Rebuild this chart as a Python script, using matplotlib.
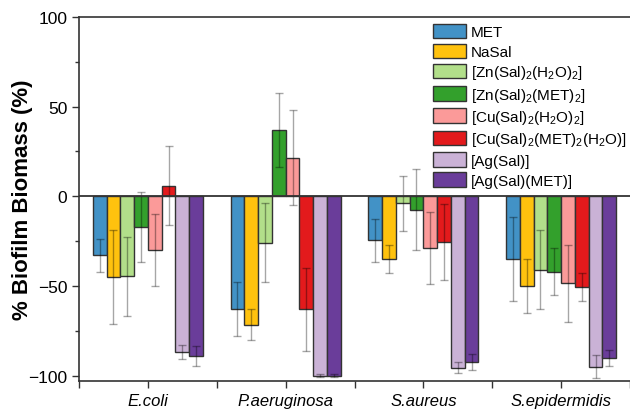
import numpy as np
import matplotlib
matplotlib.use('Agg')
import matplotlib.pyplot as plt

plt.rcParams['font.family'] = ['Liberation Sans', 'DejaVu Sans']
plt.rcParams['mathtext.default'] = 'regular'

# bacteria groups on the x axis
groups = ['E.coli', 'P.aeruginosa', 'S.aureus', 'S.epidermidis']

# compounds (legend order)
compounds = ['MET', 'NaSal',
             '[Zn(Sal)$_2$(H$_2$O)$_2$]', '[Zn(Sal)$_2$(MET)$_2$]',
             '[Cu(Sal)$_2$(H$_2$O)$_2$]', '[Cu(Sal)$_2$(MET)$_2$(H$_2$O)]',
             '[Ag(Sal)]', '[Ag(Sal)(MET)]']
colors = ['#4292c6', '#ffc20e', '#b2df8a', '#33a02c',
          '#fb9a99', '#e31a1c', '#cab2d6', '#6a3d9a']

# mean % biofilm biomass, one list per compound (E.coli, P.aer, S.aur, S.epi)
met      = [-33, -63, -24.5, -35]
nasal    = [-45, -71.5, -35, -50]
zn_h2o   = [-44.5, -26, -4, -41]
zn_met   = [-17, 37, -7.5, -42]
cu_h2o   = [-30, 21.5, -29, -48.5]
cu_met   = [6, -63, -25.5, -50.5]
ag_sal   = [-87, -100, -95.5, -95]
ag_met   = [-89, -100, -92.5, -90]

# standard deviations
met_err    = [9, 15, 12, 23.5]
nasal_err  = [26, 8.5, 8, 15]
zn_h2o_err = [22, 22, 15.5, 22]
zn_met_err = [19.5, 20.5, 22.5, 13]
cu_h2o_err = [20, 26.5, 20, 21.5]
cu_met_err = [22, 23, 21, 8]
ag_sal_err = [4, 1, 3, 6.5]
ag_met_err = [5.5, 1, 4.5, 4.5]

values = [met, nasal, zn_h2o, zn_met, cu_h2o, cu_met, ag_sal, ag_met]
errors = [met_err, nasal_err, zn_h2o_err, zn_met_err,
          cu_h2o_err, cu_met_err, ag_sal_err, ag_met_err]

fig = plt.figure(figsize=(6.3, 4.14), dpi=100)
ax = fig.add_axes([0.1254, 0.0773, 0.8746, 0.8792])

x = np.arange(len(groups))
width = 0.1
for i, (vals, errs) in enumerate(zip(values, errors)):
    pos = x - 0.35 + i * width
    ax.bar(pos, vals, width, color=colors[i], edgecolor='#333333',
           linewidth=1.0, label=compounds[i], zorder=2)
    ax.errorbar(pos, vals, yerr=errs, fmt='none', ecolor='black',
                alpha=0.35, elinewidth=1.0, capsize=3, capthick=1.0, zorder=3)

ax.axhline(0, color='#333333', linewidth=1.3, zorder=4)

ax.set_xlim(-0.5, 3.5)
ax.set_ylim(-103, 100)
ax.set_yticks([-100, -50, 0, 50, 100])
ax.set_yticks([-75, -25, 25, 75], minor=True)
ax.set_xticks(x)
ax.set_xticks(np.arange(-0.5, 4.0, 1.0), minor=True)
ax.set_xticklabels(groups, fontstyle='italic', fontsize=12)
ax.tick_params(axis='y', labelsize=12.5, length=5, width=1, color='#333333')
ax.tick_params(axis='y', which='minor', length=3, width=1, color='#333333')
ax.tick_params(axis='x', which='both', length=5, width=1, color='#333333')

for s in ['left', 'bottom', 'top']:
    ax.spines[s].set_color('#333333')
    ax.spines[s].set_linewidth(1.2)
ax.spines['right'].set_visible(False)

ax.set_ylabel('% Biofilm Biomass (%)', fontsize=16, fontweight='bold')
ax.yaxis.set_label_coords(-0.083, 0.50)

ax.legend(loc='upper right', bbox_to_anchor=(1.0, 0.99), frameon=False,
          fontsize=11, handlelength=2.2, handleheight=1.1,
          labelspacing=0.28, handletextpad=0.3, borderaxespad=0.1,
          borderpad=0.1)

fig.savefig('out.png', dpi=100)
